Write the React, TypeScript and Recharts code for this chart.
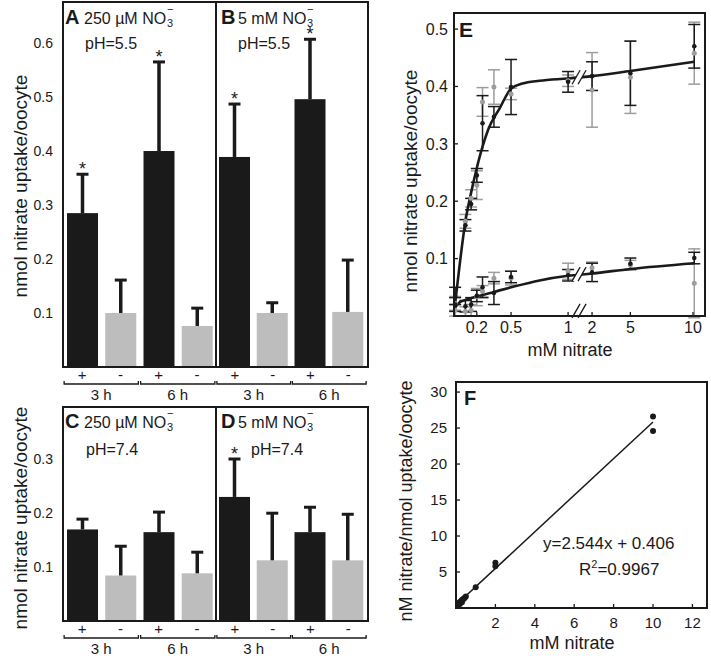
// Nitrate uptake figure: bar panels A–D, kinetics E, Hanes plot F
import {
  Bar, BarChart, ComposedChart, ErrorBar, Line, ReferenceDot, Scatter, XAxis, YAxis,
} from 'recharts';

const FONT = '"Liberation Sans", Arial, sans-serif';
const INK = '#1a1a1a';
const GREY = '#bdbdbd';
const GREY_DARK = '#9d9d9d';

// ---- bar panels (+ / - oocytes at 3 h and 6 h) ----
const signs = ['+', '-', '+', '-'];
const hours = ['3 h', '6 h'];

const meanA = [0.285, 0.1, 0.4, 0.076];
const topA = [0.357, 0.161, 0.565, 0.109];
const starA = [true, false, true, false];

const meanB = [0.389, 0.1, 0.496, 0.102];
const topB = [0.487, 0.119, 0.607, 0.198];
const starB = [true, false, true, false];

const meanC = [0.169, 0.084, 0.164, 0.088];
const topC = [0.188, 0.138, 0.201, 0.127];
const starC = [false, false, false, false];

const meanD = [0.229, 0.112, 0.164, 0.112];
const topD = [0.299, 0.199, 0.21, 0.197];
const starD = [true, false, false, false];

const ticksTop = [0.1, 0.2, 0.3, 0.4, 0.5, 0.6];
const ticksBottom = [0.1, 0.2, 0.3];

// ---- panel E: uptake vs concentration, two fits ----
const concE = [0.01, 0.1, 0.15, 0.2, 0.25, 0.35, 0.5, 1, 2, 5, 10];
const hiBlack = [0.035, 0.158, 0.195, 0.245, 0.336, 0.347, 0.399, 0.408, 0.418, 0.423, 0.47];
const hiBlackErr = [0.015, 0.01, 0.01, 0.012, 0.048, 0.018, 0.048, 0.018, 0.025, 0.056, 0.038];
const hiGrey = [0.022, 0.165, 0.205, 0.228, 0.373, 0.399, 0.387, 0.41, 0.394, 0.416, 0.458];
const hiGreyErr = [0.012, 0.012, 0.015, 0.025, 0.025, 0.03, 0.01, 0.01, 0.065, 0.063, 0.054];
const loBlack = [0.02, 0.017, 0.02, 0.035, 0.05, 0.04, 0.068, 0.071, 0.076, 0.091, 0.101];
const loBlackErr = [0.012, 0.01, 0.012, 0.01, 0.018, 0.02, 0.01, 0.01, 0.016, 0.01, 0.01];
const loGrey = [0.01, 0.008, 0.01, 0.033, 0.043, 0.066, 0.066, 0.078, 0.084, 0.089, 0.057];
const loGreyErr = [0.01, 0.008, 0.01, 0.015, 0.01, 0.01, 0.012, 0.014, 0.01, 0.008, 0.06];

const fitHiConc = [0, 0.05, 0.1, 0.15, 0.2, 0.25, 0.3, 0.4, 0.5, 0.6, 0.75, 1, 2, 5, 10];
const fitHiVal = [0.005, 0.09, 0.165, 0.215, 0.258, 0.295, 0.325, 0.362, 0.396, 0.405, 0.41, 0.414, 0.418, 0.427, 0.443];
const fitLoConc = [0, 0.05, 0.1, 0.2, 0.35, 0.5, 0.75, 1, 2, 5, 10];
const fitLoVal = [0.012, 0.024, 0.028, 0.034, 0.042, 0.05, 0.062, 0.07, 0.074, 0.082, 0.092];

const eTickLabels = [0.2, 0.5, 1, 2, 5, 10];
const eTicksY = [0.1, 0.2, 0.3, 0.4, 0.5];

// ---- panel F: [S]/v vs [S] ----
const fConc = [10, 10, 2, 2, 1, 0.5, 0.45, 0.4, 0.35, 0.3, 0.25, 0.2, 0.15, 0.1, 0.05, 0.02, 0.3, 0.2, 0.1];
const fRatio = [26.6, 24.6, 6.3, 5.8, 2.9, 1.6, 1.45, 1.3, 1.2, 1.1, 0.95, 0.85, 0.7, 0.6, 0.45, 0.3, 0.8, 0.55, 0.35];
const fFitConc = [0, 10];
const fFitVal = [0.41, 25.85];
const fTicksX = [2, 4, 6, 8, 10, 12];
const fTicksY = [5, 10, 15, 20, 25, 30];

// broken x axis in E: 0–1 linear, then 2–10 squeezed
const brk = (c: number) => (c <= 1 ? c : 1.21 + (c - 2) * 0.112);

const bars = (mean: number[], top: number[], star: boolean[]) =>
  signs.map((s, i) => ({ sign: s, v: mean[i], top: top[i], star: star[i] }));
const pts = (conc: number[], val: number[], err?: number[]) =>
  conc.map((c, i) => ({ x: brk(c), y: val[i], e: err ? err[i] : 0 }));

function BarWithErr(props: any) {
  const { x, y, width, height, payload } = props;
  const k = height / payload.v;
  const ey = y - (payload.top - payload.v) * k;
  const cx = x + width / 2;
  return (
    <g>
      <rect x={x} y={y} width={width} height={height} fill={payload.sign === '+' ? INK : GREY} />
      <line x1={cx} x2={cx} y1={y} y2={ey} stroke={INK} strokeWidth={3.5} />
      <line x1={cx - 6} x2={cx + 6} y1={ey} y2={ey} stroke={INK} strokeWidth={3} />
      {payload.star && (
        <text x={cx} y={ey + 1} textAnchor="middle" fontSize={18} fill={INK}>*</text>
      )}
    </g>
  );
}

function SignTick(props: any) {
  const { x, y, payload, band } = props;
  const i = payload.index ?? props.index;
  const left = x - 18;
  const right = x + band + 18;
  return (
    <g>
      <text x={x} y={y + 13} textAnchor="middle" fontSize={15} fill={INK}>{payload.value}</text>
      {i % 2 === 0 && (
        <g>
          <polyline points={`${left},${y + 14} ${left},${y + 17} ${right},${y + 17} ${right},${y + 14}`}
            fill="none" stroke={INK} strokeWidth={1.3} />
          <text x={x + band / 2} y={y + 33} textAnchor="middle" fontSize={15} fill={INK}>{hours[i / 2]}</text>
        </g>
      )}
    </g>
  );
}

function YTick(props: any) {
  const { x, y, payload, size, gap, inner } = props;
  return (
    <g>
      {inner > 0 && <line x1={x} x2={x + inner} y1={y} y2={y} stroke={INK} strokeWidth={1.3} />}
      <text x={x - gap} y={y} dy="0.36em" textAnchor="end" fontSize={size} fill={INK}>{payload.value}</text>
    </g>
  );
}

function XTick(props: any) {
  const { x, y, payload, size, gap, inner, label } = props;
  return (
    <g>
      {inner > 0 && <line x1={x} x2={x} y1={y} y2={y - inner} stroke={INK} strokeWidth={1.3} />}
      <text x={x} y={y + gap} textAnchor="middle" fontSize={size} fill={INK}>
        {label ? label(payload.value) : payload.value}
      </text>
    </g>
  );
}

function BreakMark(props: any) {
  const { cx, cy } = props;
  return (
    <g>
      <polygon points={`${cx - 8},${cy + 7} ${cx},${cy - 7} ${cx + 6},${cy - 7} ${cx - 2},${cy + 7}`} fill="#fff" />
      <line x1={cx - 8} y1={cy + 7} x2={cx} y2={cy - 7} stroke={INK} strokeWidth={1.3} />
      <line x1={cx - 2} y1={cy + 7} x2={cx + 6} y2={cy - 7} stroke={INK} strokeWidth={1.3} />
    </g>
  );
}

function BarPanel({ data, max, ticks, withAxis, width, height, plotH, band }: any) {
  return (
    <BarChart width={width} height={height} data={data} margin={{ top: 2, right: 0, bottom: 0, left: 0 }}
      barSize={31}>
      <XAxis dataKey="sign" height={height - 2 - plotH} axisLine={false} tickLine={false}
        tickSize={0} tickMargin={0} interval={0} tick={(p: any) => <SignTick {...p} band={band} />} />
      <YAxis hide={!withAxis} width={63} domain={[0, max]} ticks={ticks} axisLine={false} tickLine={false}
        tickSize={0} tickMargin={0} tick={(p: any) => <YTick {...p} size={14} gap={10} inner={0} />} />
      <Bar dataKey="v" shape={BarWithErr} isAnimationActive={false} />
    </BarChart>
  );
}

const box = (left: number, top: number, width: number, height: number) => ({
  position: 'absolute' as const, left, top, width, height, border: `2px solid ${INK}`, boxSizing: 'border-box' as const,
});
const vline = (left: number, top: number, height: number) => ({
  position: 'absolute' as const, left, top, width: 2, height, background: INK,
});

// "<conc> NO3-" with the 3 and the minus stacked after the O
function Nitrate({ x, y, conc, stackX }: { x: number; y: number; conc: string; stackX: number }) {
  return (
    <g>
      <text x={x} y={y} fontSize={16}>{conc} NO</text>
      <text x={stackX} y={y - 11} fontSize={11}>−</text>
      <text x={stackX} y={y + 3} fontSize={11}>3</text>
    </g>
  );
}

export default function App() {
  const eHiBlack = pts(concE, hiBlack, hiBlackErr);
  const eHiGrey = pts(concE, hiGrey, hiGreyErr);
  const eLoBlack = pts(concE, loBlack, loBlackErr);
  const eLoGrey = pts(concE, loGrey, loGreyErr);
  const eFitHi = pts(fitHiConc, fitHiVal);
  const eFitLo = pts(fitLoConc, fitLoVal);
  const fPts = fConc.map((c, i) => ({ x: c, y: fRatio[i] }));
  const fFit = fFitConc.map((c, i) => ({ x: c, y: fFitVal[i] }));
  const eLabel = (v: number) => {
    const hit = eTickLabels.find(c => Math.abs(brk(c) - v) < 1e-6);
    return hit === undefined ? '' : String(hit);
  };
  const dot = (fill: string, r: number) => (p: any) => <circle cx={p.cx} cy={p.cy} r={r} fill={fill} />;

  return (
    <div style={{ position: 'absolute', left: 0, top: 0, width: 711, height: 658, overflow: 'hidden',
      background: '#fff', fontFamily: FONT }}>
      <div style={{ position: 'absolute', left: 0, top: 0 }}>
        <BarPanel data={bars(meanA, topA, starA)} max={0.676} ticks={ticksTop} withAxis width={216} height={407} plotH={365} band={38.25} />
      </div>
      <div style={{ position: 'absolute', left: 216, top: 0 }}>
        <BarPanel data={bars(meanB, topB, starB)} max={0.676} ticks={ticksTop} withAxis={false} width={151} height={407} plotH={365} band={37.75} />
      </div>
      <div style={{ position: 'absolute', left: 0, top: 405 }}>
        <BarPanel data={bars(meanC, topC, starC)} max={0.395} ticks={ticksBottom} withAxis width={216} height={253} plotH={214} band={38.25} />
      </div>
      <div style={{ position: 'absolute', left: 216, top: 405 }}>
        <BarPanel data={bars(meanD, topD, starD)} max={0.395} ticks={ticksBottom} withAxis={false} width={151} height={253} plotH={214} band={37.75} />
      </div>

      <div style={{ position: 'absolute', left: 380, top: 0 }}>
        <ComposedChart width={331} height={361} margin={{ top: 13, right: 6, bottom: 0, left: 0 }}>
          <XAxis dataKey="x" type="number" domain={[0, 2.2]} ticks={eTickLabels.map(brk)} height={45}
            axisLine={false} tickLine={false} tickSize={0} tickMargin={0} allowDataOverflow
            tick={(p: any) => <XTick {...p} size={16} gap={17} inner={4} label={eLabel} />} />
          <YAxis type="number" domain={[0, 0.528]} ticks={eTicksY} width={74} axisLine={false} tickLine={false}
            tickSize={0} tickMargin={0} allowDataOverflow
            tick={(p: any) => <YTick {...p} size={16} gap={6} inner={4} />} />
          <Scatter data={eHiGrey} dataKey="y" shape={dot(GREY_DARK, 2.5)} isAnimationActive={false}>
            <ErrorBar dataKey="e" direction="y" width={6} strokeWidth={1.5} stroke={GREY_DARK} />
          </Scatter>
          <Scatter data={eLoGrey} dataKey="y" shape={dot(GREY_DARK, 2.5)} isAnimationActive={false}>
            <ErrorBar dataKey="e" direction="y" width={6} strokeWidth={1.5} stroke={GREY_DARK} />
          </Scatter>
          <Scatter data={eHiBlack} dataKey="y" shape={dot(INK, 2.3)} isAnimationActive={false}>
            <ErrorBar dataKey="e" direction="y" width={6} strokeWidth={1.5} stroke={INK} />
          </Scatter>
          <Scatter data={eLoBlack} dataKey="y" shape={dot(INK, 2.3)} isAnimationActive={false}>
            <ErrorBar dataKey="e" direction="y" width={6} strokeWidth={1.5} stroke={INK} />
          </Scatter>
          <Line data={eFitHi} dataKey="y" type="monotone" stroke={INK} strokeWidth={2.6} dot={false} isAnimationActive={false} />
          <Line data={eFitLo} dataKey="y" type="monotone" stroke={INK} strokeWidth={2.6} dot={false} isAnimationActive={false} />
          <ReferenceDot x={1.105} y={0.416} r={0} shape={BreakMark} ifOverflow="visible" />
          <ReferenceDot x={1.105} y={0.073} r={0} shape={BreakMark} ifOverflow="visible" />
          <ReferenceDot x={1.105} y={0.009} r={0} shape={BreakMark} ifOverflow="visible" />
        </ComposedChart>
      </div>

      <div style={{ position: 'absolute', left: 380, top: 370 }}>
        <ComposedChart width={331} height={288} margin={{ top: 12, right: 4, bottom: 0, left: 0 }}>
          <XAxis dataKey="x" type="number" domain={[0, 12.74]} ticks={fTicksX} height={50}
            axisLine={false} tickLine={false} tickSize={0} tickMargin={0} allowDataOverflow
            tick={(p: any) => <XTick {...p} size={15} gap={20} inner={4} />} />
          <YAxis type="number" domain={[0, 31.4]} ticks={fTicksY} width={76} axisLine={false} tickLine={false}
            tickSize={0} tickMargin={0} allowDataOverflow
            tick={(p: any) => <YTick {...p} size={15} gap={9} inner={4} />} />
          <Line data={fFit} dataKey="y" type="linear" stroke={INK} strokeWidth={1.5} dot={false} isAnimationActive={false} />
          <Scatter data={fPts} dataKey="y" shape={dot(INK, 3)} isAnimationActive={false} />
        </ComposedChart>
      </div>

      {/* frames */}
      <div style={box(62, 1, 307, 367)} />
      <div style={vline(215, 1, 367)} />
      <div style={box(62, 406, 307, 216)} />
      <div style={vline(215, 406, 216)} />
      <div style={box(453, 12, 253, 305)} />
      <div style={box(455, 381, 253, 228)} />

      {/* panel titles and axis titles */}
      <svg width={711} height={658} style={{ position: 'absolute', left: 0, top: 0, pointerEvents: 'none' }}
        fontFamily={FONT} fill={INK}>
        <text x={65} y={24} fontSize={20} fontWeight="bold">A</text>
        <Nitrate x={84} y={24} conc="250 µM" stackX={167} />
        <text x={85} y={49} fontSize={16}>pH=5.5</text>

        <text x={221} y={24} fontSize={20} fontWeight="bold">B</text>
        <Nitrate x={238} y={24} conc="5 mM" stackX={307} />
        <text x={238} y={49} fontSize={16}>pH=5.5</text>

        <text x={65} y={428} fontSize={20} fontWeight="bold">C</text>
        <Nitrate x={84} y={428} conc="250 µM" stackX={167} />
        <text x={86} y={455} fontSize={16}>pH=7.4</text>

        <text x={221} y={428} fontSize={20} fontWeight="bold">D</text>
        <Nitrate x={238} y={428} conc="5 mM" stackX={307} />
        <text x={251} y={455} fontSize={16}>pH=7.4</text>

        <text transform="translate(27,186) rotate(-90)" textAnchor="middle" fontSize={19}>nmol nitrate uptake/oocyte</text>
        <text transform="translate(27,518) rotate(-90)" textAnchor="middle" fontSize={19}>nmol nitrate uptake/oocyte</text>

        <text x={459} y={37} fontSize={21} fontWeight="bold">E</text>
        <text transform="translate(417,181) rotate(-90)" textAnchor="middle" fontSize={19}>nmol nitrate uptake/oocyte</text>
        <text x={570} y={356} textAnchor="middle" fontSize={18}>mM nitrate</text>

        <text x={464} y={405} fontSize={20} fontWeight="bold">F</text>
        <text transform="translate(412,501) rotate(-90)" textAnchor="middle" fontSize={18}>nM nitrate/nmol uptake/oocyte</text>
        <text x={572} y={649} textAnchor="middle" fontSize={18}>mM nitrate</text>
        <text x={543} y={549} fontSize={17}>y=2.544x + 0.406</text>
        <text x={579} y={575} fontSize={17}>R<tspan dy={-7} fontSize={11}>2</tspan><tspan dy={7}>=0.9967</tspan></text>
      </svg>
    </div>
  );
}
